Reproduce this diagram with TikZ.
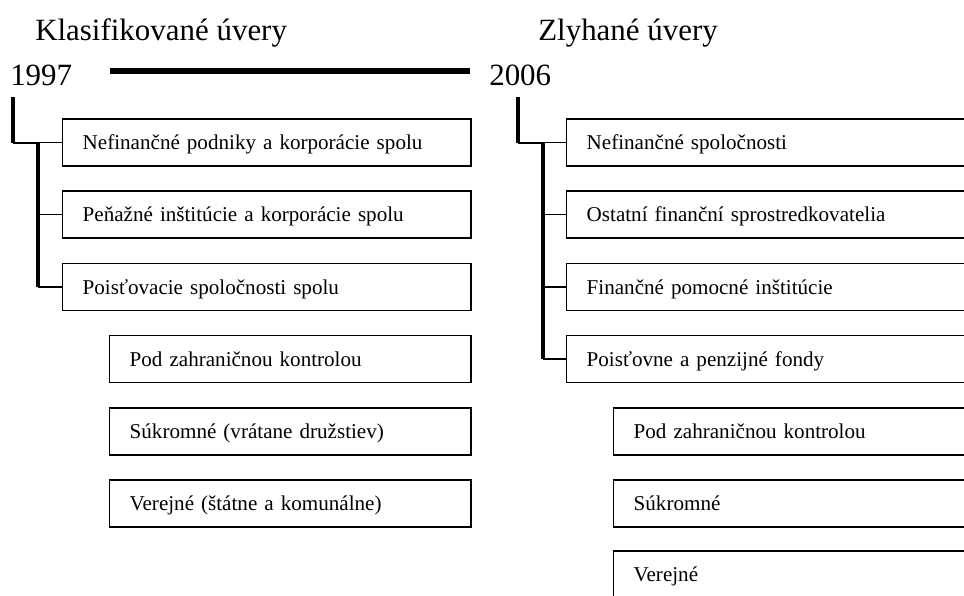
\documentclass[tikz,border=0pt]{standalone}
\usepackage{fontspec}
\setmainfont{Liberation Serif}
\usetikzlibrary{positioning}
\tikzstyle{head}=[inner sep=0pt, anchor=base west, font=\fontsize{22}{26}\selectfont]
\tikzstyle{box}=[draw, line width=1pt, anchor=west, minimum height=1.175cm,
 inner xsep=0.5cm, align=left, text height=13pt, text depth=3pt,
 font=\fontsize{15}{18}\selectfont]
\tikzstyle{bar}=[line width=4pt]
\tikzstyle{spine}=[line width=3pt]
\tikzstyle{branch}=[line width=1pt]

\begin{document}
\begin{tikzpicture}[x=0.025cm, y=-0.025cm]
	\useasboundingbox (0,0) rectangle (964,595);
	\clip (0,0) rectangle (964,595);

		% Headings and years
		\node[head] (t1) at (35,40) {Klasifikované úvery};
		\node[head] (t2) at (538,40) {Zlyhané úvery};
		\node[head] (y1) at (10,85) {1997};
		\node[head] (y2) at (489,85) {2006};
		\coordinate (h1) at (110,71);
		\coordinate (h2) at (470,71);
		\draw[bar] (h1) -- (h2);

		% Boxes 1997
		\foreach \ypos/\lab/\txt in {142.5/l1/{Nefinančné podniky a korporácie spolu},
			214.5/l2/{Peňažné inštitúcie a korporácie spolu},
			287/l3/{Poisťovacie spoločnosti spolu}}
		\node[box, text width=9.2cm] (\lab) at (62,\ypos) {\txt};
		\foreach \ypos/\lab/\txt in {359/l4/{Pod zahraničnou kontrolou},
			431.5/l5/{Súkromné (vrátane družstiev)},
			503.5/l6/{Verejné (štátne a komunálne)}}
		\node[box, text width=8.025cm] (\lab) at (109,\ypos) {\txt};

		% Boxes 2006
		\foreach \ypos/\lab/\txt in {142.5/r1/{Nefinančné spoločnosti},
			214.5/r2/{Ostatní finanční sprostredkovatelia},
			287/r3/{Finančné pomocné inštitúcie},
			359/r4/{Poisťovne a penzijné fondy}}
		\node[box, text width=10.1cm] (\lab) at (566,\ypos) {\txt};
		\foreach \ypos/\lab/\txt in {431.5/r5/{Pod zahraničnou kontrolou},
			503.5/r6/{Súkromné},
			574.5/r7/{Verejné}}
		\node[box, text width=8.925cm] (\lab) at (613,\ypos) {\txt};

		% Tree 1997
		\coordinate (lt) at (13,97);
		\coordinate (lb) at (13,143);
		\coordinate (ls) at (38,143);
		\draw[spine] (lt) -- (lb);
		\draw[branch] (lb) -- (ls);
		\draw[spine] (ls) -- (ls |- l3.west);
		\foreach \b in {l1, l2, l3}
		\draw[branch] (ls |- \b.west) -- (\b.west);

		% Tree 2006
		\coordinate (rt) at (518,97);
		\coordinate (rb) at (518,143);
		\coordinate (rs) at (543,143);
		\draw[spine] (rt) -- (rb);
		\draw[branch] (rb) -- (rs);
		\draw[spine] (rs) -- (rs |- r4.west);
		\foreach \b in {r1, r2, r3, r4}
		\draw[branch] (rs |- \b.west) -- (\b.west);
\end{tikzpicture}
\end{document}
